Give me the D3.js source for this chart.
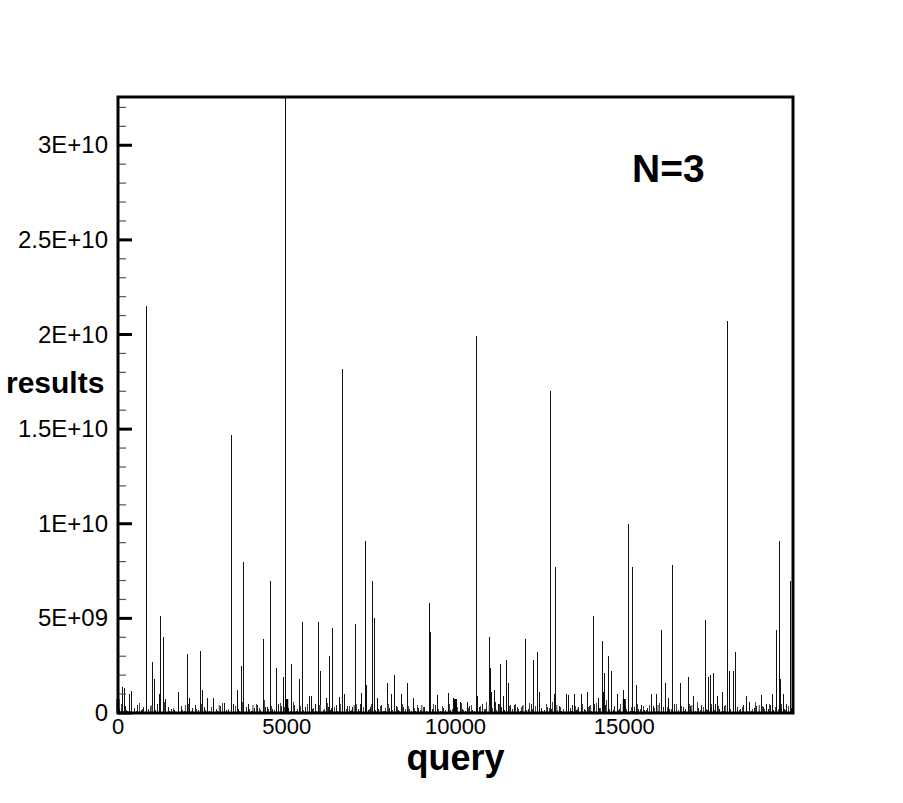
<!DOCTYPE html>
<html>
<head>
<meta charset="utf-8">
<script src="https://cdn.jsdelivr.net/npm/d3@7"></script>
<style>
  body { margin: 0; background: #fff; }
  text { font-family: "Liberation Sans", Arial, Helvetica, sans-serif; fill: #000; }
</style>
</head>
<body>
<div class="chart"></div>
<script>
// query number vs number of results (in units of 1E+09)
const spikes = [
  [119, 1.37], [178, 1.3], [326, 1.0], [414, 1.15], [830, 21.5], [859, 1.3], [1008, 2.7], [1067, 1.8],
  [1244, 1.0], [1274, 5.1], [1334, 4.0], [1422, 0.75], [1807, 1.1], [2045, 3.1], [2133, 0.8],
  [2459, 3.3], [2518, 1.2], [2637, 0.8], [2844, 0.8], [3141, 0.55], [3348, 14.7], [3526, 1.2],
  [3645, 2.5], [3733, 8.0], [3852, 0.5], [4297, 3.9], [4415, 0.3], [4504, 7.0], [4682, 2.4],
  [4889, 1.9], [4948, 2.2], [4977, 32.5], [5155, 2.6], [5363, 1.8], [5452, 0.9], [5481, 4.8],
  [5688, 0.9], [5719, 0.9], [5926, 4.8], [6014, 2.2], [6163, 0.8], [6252, 3.0], [6370, 4.5],
  [6548, 0.85], [6637, 18.2], [6725, 1.0], [7022, 4.7], [7051, 1.0], [7229, 1.05], [7319, 9.1],
  [7348, 1.5], [7555, 7.0], [7585, 5.0], [7674, 0.8], [7971, 1.6], [8089, 1.0], [8178, 2.0],
  [8385, 1.0], [8563, 1.6], [8741, 0.8], [9215, 5.8], [9245, 4.3], [9452, 0.95], [9778, 1.05],
  [9926, 0.8], [10133, 0.6], [10341, 0.6], [10608, 19.9], [10637, 0.9], [10993, 4.0], [11022, 2.4],
  [11052, 1.1], [11141, 1.2], [11259, 0.5], [11319, 2.6], [11407, 0.9], [11496, 2.8], [11555, 1.6],
  [11733, 0.4], [12059, 3.9], [12325, 2.8], [12415, 3.2], [12474, 1.1], [12800, 17.0], [12919, 1.0],
  [12977, 7.7], [13274, 1.0], [13333, 0.95], [13511, 1.0], [13718, 1.0], [13897, 1.1], [14075, 5.1],
  [14223, 0.8], [14341, 3.8], [14370, 1.1], [14400, 2.1], [14518, 3.0], [14607, 2.2], [14786, 1.0],
  [14963, 1.2], [15112, 10.0], [15229, 7.7], [15348, 1.5], [15792, 1.0], [15940, 1.0], [16089, 4.4],
  [16208, 1.6], [16296, 0.8], [16415, 7.8], [16652, 1.6], [16889, 1.9], [17037, 0.9], [17393, 4.9],
  [17481, 1.9], [17540, 2.0], [17630, 2.1], [17749, 0.9], [17896, 1.1], [18044, 20.7], [18104, 2.2],
  [18222, 2.2], [18282, 3.2], [18608, 0.9], [18697, 0.6], [19052, 0.95], [19200, 0.5], [19378, 1.0],
  [19497, 4.4], [19585, 9.1], [19616, 1.8], [19704, 1.0], [19911, 7.0]
];

// low-level results along the baseline
const noise = [
  [45, 0.2], [213, 0.35], [291, 0.1], [482, 0.25], [582, 0.4], [683, 0.15], [762, 0.3], [918, 0.2],
  [1176, 0.45], [1344, 0.1], [1490, 0.3], [1590, 0.2], [1680, 0.15], [1881, 0.35], [1960, 0.1],
  [2217, 0.25], [2296, 0.4], [2385, 0.15], [2564, 0.3], [2710, 0.1], [2911, 0.2], [3024, 0.35],
  [3225, 0.15], [3427, 0.45], [3572, 0.2], [3796, 0.3], [3942, 0.1], [4043, 0.25], [4143, 0.4],
  [4233, 0.15], [4367, 0.3], [4591, 0.2], [4759, 0.5], [4838, 0.35], [5039, 0.25], [5241, 0.4],
  [5297, 0.1], [5554, 0.3], [5767, 0.2], [5845, 0.45], [6080, 0.15], [6226, 0.3], [6327, 0.25],
  [6472, 0.4], [6708, 0.2], [6808, 0.35], [6887, 0.1], [6954, 0.3], [7111, 0.2], [7189, 0.45],
  [7413, 0.15], [7491, 0.3], [7726, 0.2], [7816, 0.4], [7894, 0.1], [8051, 0.25], [8242, 0.35],
  [8309, 0.15], [8466, 0.3], [8645, 0.2], [8824, 0.1], [8902, 0.25], [9003, 0.15], [9093, 0.3],
  [9305, 0.2], [9395, 0.4], [9541, 0.1], [9641, 0.25], [9854, 0.15], [10022, 0.3], [10212, 0.2],
  [10291, 0.1], [10414, 0.35], [10504, 0.15], [10705, 0.3], [10795, 0.45], [10884, 0.2], [11198, 0.6],
  [11366, 0.3], [11455, 0.15], [11623, 0.4], [11679, 0.2], [11825, 0.3], [11914, 0.1], [11982, 0.35],
  [12150, 0.2], [12239, 0.45], [12542, 0.25], [12642, 0.15], [12721, 0.3], [12855, 0.2], [13079, 0.35],
  [13146, 0.1], [13393, 0.25], [13460, 0.4], [13583, 0.15], [13650, 0.3], [13807, 0.2], [13975, 0.35],
  [14132, 0.5], [14277, 0.25], [14445, 0.4], [14669, 0.15], [14725, 0.3], [14860, 0.2], [15028, 0.35],
  [15173, 0.1], [15296, 0.3], [15431, 0.2], [15509, 0.4], [15599, 0.15], [15700, 0.25], [15856, 0.35],
  [16013, 0.1], [16148, 0.3], [16349, 0.2], [16484, 0.45], [16562, 0.15], [16741, 0.3], [16820, 0.2],
  [16954, 0.35], [17111, 0.1], [17200, 0.25], [17301, 0.4], [17458, 0.15], [17592, 0.3], [17693, 0.5],
  [17827, 0.2], [17973, 0.35], [18152, 0.15], [18365, 0.3], [18454, 0.2], [18533, 0.4], [18768, 0.1],
  [18846, 0.25], [18925, 0.35], [18992, 0.15], [19126, 0.3], [19261, 0.2], [19328, 0.4], [19429, 0.15],
  [19664, 0.3], [19753, 0.2], [19820, 0.45], [19955, 0.25]
];

// more low-level results in between
const noiseFill = [
  [100, 0.5], [250, 0.15], [390, 0.3], [540, 0.1], [640, 0.55], [720, 0.2], [960, 0.35], [1110, 0.15],
  [1390, 0.6], [1540, 0.1], [1640, 0.25], [1780, 0.4], [1920, 0.15], [2080, 0.5], [2170, 0.1], [2330, 0.2],
  [2470, 0.45], [2590, 0.15], [2760, 0.3], [2960, 0.1], [3090, 0.55], [3280, 0.2], [3470, 0.35], [3610, 0.1],
  [3690, 0.6], [3900, 0.2], [3990, 0.15], [4090, 0.45], [4190, 0.25], [4330, 0.7], [4450, 0.2], [4550, 0.35],
  [4640, 0.15], [4800, 0.55], [4920, 0.3], [5100, 0.1], [5200, 0.6], [5330, 0.2], [5400, 0.35], [5510, 0.15],
  [5620, 0.5], [5800, 0.25], [5890, 0.1], [5980, 0.4], [6120, 0.2], [6200, 0.55], [6290, 0.15], [6420, 0.3],
  [6510, 0.1], [6600, 0.45], [6760, 0.2], [6850, 0.35], [6920, 0.15], [7080, 0.5], [7160, 0.1], [7270, 0.3],
  [7460, 0.2], [7520, 0.45], [7630, 0.15], [7770, 0.35], [7860, 0.1], [7930, 0.25], [8010, 0.5], [8120, 0.15],
  [8280, 0.3], [8350, 0.1], [8430, 0.45], [8510, 0.2], [8600, 0.35], [8700, 0.1], [8790, 0.25], [8860, 0.4],
  [8960, 0.15], [9060, 0.3], [9150, 0.1], [9350, 0.5], [9500, 0.2], [9600, 0.35], [9700, 0.15], [9810, 0.45],
  [9900, 0.2], [10060, 0.3], [10170, 0.55], [10250, 0.15], [10380, 0.25], [10460, 0.4], [10560, 0.1], [10750, 0.35],
  [10850, 0.2], [10930, 0.6], [11100, 0.25], [11220, 0.15], [11300, 0.45], [11430, 0.2], [11600, 0.35], [11700, 0.1],
  [11780, 0.5], [11870, 0.2], [11950, 0.3], [12100, 0.15], [12200, 0.55], [12280, 0.2], [12380, 0.35], [12590, 0.1],
  [12690, 0.45], [12780, 0.25], [12880, 0.6], [13030, 0.15], [13110, 0.3], [13200, 0.2], [13300, 0.5], [13430, 0.1],
  [13560, 0.35], [13620, 0.2], [13760, 0.45], [13850, 0.15], [13940, 0.3], [14030, 0.1], [14180, 0.55], [14300, 0.25],
  [14480, 0.7], [14560, 0.2], [14700, 0.35], [14830, 0.15], [14900, 0.45], [15060, 0.2], [15200, 0.3], [15280, 0.1],
  [15400, 0.5], [15470, 0.2], [15560, 0.35], [15650, 0.15], [15740, 0.4], [15900, 0.25], [16050, 0.55], [16150, 0.1],
  [16280, 0.3], [16400, 0.2], [16540, 0.45], [16600, 0.15], [16700, 0.35], [16780, 0.1], [16930, 0.5], [17000, 0.2],
  [17160, 0.6], [17250, 0.15], [17350, 0.3], [17430, 0.2], [17580, 0.45], [17680, 0.15], [17790, 0.35], [17950, 0.1],
  [18060, 0.55], [18160, 0.2], [18300, 0.4], [18400, 0.15], [18500, 0.3], [18640, 0.1], [18720, 0.45], [18800, 0.2],
  [18900, 0.6], [19010, 0.15], [19100, 0.35], [19160, 0.2], [19300, 0.5], [19390, 0.1], [19470, 0.3], [19560, 0.2],
  [19650, 0.45], [19780, 0.15], [19870, 0.35]
];

const xTicks = [0, 5000, 10000, 15000];
const yTicks = [0, 5, 10, 15, 20, 25, 30];
const xMax = 19999;
const yMax = 32.55;
const label = "N=3";

const w = 903, h = 803;
const padLeft = 118, padRight = 793, padTop = 97, padBottom = 713;

const xScale = d3.scaleLinear().domain([0, xMax]).range([padLeft, padRight]);
const yScale = d3.scaleLinear().domain([0, yMax]).range([padBottom, padTop]);

const fmtE = (v) => {
  if (v === 0) return "0";
  const val = v * 1e9;
  const e = Math.floor(Math.log10(val));
  const m = +(val / Math.pow(10, e)).toFixed(3);
  return m + "E+" + String(e).padStart(2, "0");
};

const svg = d3.select(".chart").append("svg")
  .attr("width", w).attr("height", h);

svg.append("defs").append("clipPath").attr("id", "clip")
  .append("rect").attr("x", padLeft).attr("y", padTop)
  .attr("width", padRight - padLeft).attr("height", padBottom - padTop);

const plot = svg.append("g").attr("clip-path", "url(#clip)")
  .attr("shape-rendering", "crispEdges");

const drawLines = (data, cls, colour) => {
  plot.selectAll("line." + cls).data(data).enter().append("line")
    .attr("class", cls)
    .attr("x1", (d) => xScale(d[0])).attr("x2", (d) => xScale(d[0]))
    .attr("y1", yScale(0)).attr("y2", (d) => yScale(d[1]))
    .attr("stroke", colour).attr("stroke-width", 1);
};

drawLines(noiseFill, "fill", "#444");
drawLines(noise, "noise", "#222");
drawLines(spikes, "spike", "#111");

// minor ticks
const yMinor = d3.range(1, 33).filter((v) => v % 5 !== 0);
svg.selectAll("line.yminor").data(yMinor).enter().append("line")
  .attr("x1", padLeft).attr("x2", padLeft + 8)
  .attr("y1", (d) => yScale(d)).attr("y2", (d) => yScale(d))
  .attr("stroke", "#555").attr("stroke-width", 1.2);

const xMinor = d3.range(1000, 19001, 1000).filter((v) => v % 5000 !== 0);
svg.selectAll("line.xminor").data(xMinor).enter().append("line")
  .attr("x1", (d) => xScale(d)).attr("x2", (d) => xScale(d))
  .attr("y1", padBottom).attr("y2", padBottom - 8)
  .attr("stroke", "#555").attr("stroke-width", 1.2);

// major ticks
svg.selectAll("line.ymajor").data(yTicks).enter().append("line")
  .attr("x1", padLeft).attr("x2", padLeft + 14)
  .attr("y1", (d) => yScale(d)).attr("y2", (d) => yScale(d))
  .attr("stroke", "#000").attr("stroke-width", 3);

svg.selectAll("line.xmajor").data(xTicks).enter().append("line")
  .attr("x1", (d) => xScale(d)).attr("x2", (d) => xScale(d))
  .attr("y1", padBottom).attr("y2", padBottom - 14)
  .attr("stroke", "#000").attr("stroke-width", 3);

// frame
svg.append("rect")
  .attr("x", padLeft).attr("y", padTop)
  .attr("width", padRight - padLeft).attr("height", padBottom - padTop)
  .attr("fill", "none").attr("stroke", "#000").attr("stroke-width", 3);

// tick labels
svg.selectAll("text.ylab").data(yTicks).enter().append("text")
  .attr("x", padLeft - 10).attr("y", (d) => yScale(d) + 8)
  .attr("text-anchor", "end").style("font-size", "24px")
  .text(fmtE);

svg.selectAll("text.xlab").data(xTicks).enter().append("text")
  .attr("x", (d) => xScale(d)).attr("y", padBottom + 21)
  .attr("text-anchor", "middle").style("font-size", "22px")
  .text((d) => d);

// titles
svg.append("text")
  .attr("x", (padLeft + padRight) / 2).attr("y", 770)
  .attr("text-anchor", "middle")
  .style("font-size", "36px").style("font-weight", "bold")
  .text("query");

svg.append("text")
  .attr("x", 6).attr("y", 393)
  .style("font-size", "30px").style("font-weight", "bold")
  .text("results");

svg.append("text")
  .attr("x", 632).attr("y", 182)
  .style("font-size", "39px").style("font-weight", "bold")
  .text(label);
</script>
</body>
</html>
